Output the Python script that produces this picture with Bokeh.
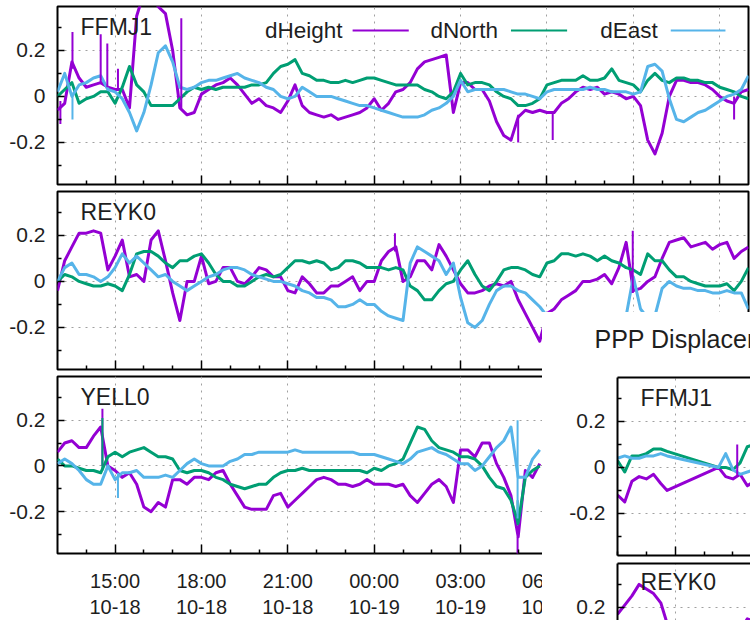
import numpy as np
import pandas as pd
from bokeh.plotting import figure
from bokeh.models import (Range1d, FixedTicker, DatetimeTickFormatter, PrintfTickFormatter,
                          Label, Column, DatetimeAxis, Grid)
from bokeh.embed import file_html
from bokeh.resources import INLINE

# ---------------------------------------------------------------- data
components = ["dHeight", "dNorth", "dEast"]
colors = ["#9400d3", "#009e73", "#56b4e9"]

main_start = "2023-10-18 13:00"      # left edge of the main chart
main_span_h = 24
sample_step_h = 0.25                 # one value every 15 minutes
main_major_h = [2, 5, 8, 11, 14, 17, 20, 23]          # 15:00, 18:00, ... 12:00
main_minor_h = [1, 3, 4, 6, 7, 9, 10, 12, 13, 15, 16, 18, 19, 21, 22]

y_major = [-0.2, 0.0, 0.2]
y_minor = [-0.3, -0.1, 0.1, 0.3]

ffmj1_dheight = [-0.06, -0.03, 0.15, 0.08, 0.04, 0.05, 0.06, 0.04, 0.03, 0.03,
                 -0.05, 0.35, 0.45, 0.45, 0.39, 0.36, 0.20, -0.05, -0.08, -0.07,
                 0.01, 0.03, 0.05, 0.06, 0.08, 0.05, 0.01, -0.03, -0.01, -0.04,
                 -0.05, -0.07, -0.02, 0.05, -0.04, -0.07, -0.08, -0.09, -0.08, -0.10,
                 -0.09, -0.08, -0.07, -0.05, -0.01, -0.06, -0.03, 0.02, 0.03, 0.06,
                 0.12, 0.15, 0.16, 0.17, 0.18, -0.07, 0.06, 0.06, 0.03, 0.03,
                 -0.02, -0.11, -0.17, -0.19, -0.09, -0.06, -0.07, -0.06, -0.07, -0.07,
                 -0.03, -0.01, 0.02, 0.04, 0.03, 0.04, 0.01, 0.02, 0.01, -0.01,
                 0.00, -0.04, -0.19, -0.25, -0.16, 0.00, 0.07, 0.07, 0.06, 0.06,
                 0.05, 0.03, 0.00, -0.02, -0.03, 0.02, 0.03]
ffmj1_dnorth = [0.00, 0.03, 0.06, -0.03, -0.01, 0.00, 0.02, 0.02, -0.03, 0.04,
                0.13, 0.05, 0.02, -0.04, -0.04, -0.04, -0.04, -0.01, 0.02, 0.04,
                0.03, 0.04, 0.03, 0.04, 0.04, 0.04, 0.04, 0.05, 0.05, 0.06,
                0.10, 0.13, 0.14, 0.16, 0.10, 0.09, 0.07, 0.07, 0.06, 0.06,
                0.07, 0.06, 0.07, 0.08, 0.08, 0.07, 0.06, 0.05, 0.05, 0.05,
                0.05, 0.03, 0.02, 0.00, -0.01, 0.02, 0.10, 0.05, 0.06, 0.06,
                0.05, 0.02, 0.00, -0.01, -0.04, -0.04, -0.03, -0.01, 0.05, 0.06,
                0.07, 0.07, 0.07, 0.09, 0.07, 0.07, 0.08, 0.12, 0.07, 0.06,
                0.05, 0.02, 0.07, 0.10, 0.07, 0.06, 0.08, 0.08, 0.07, 0.07,
                0.06, 0.06, 0.04, 0.03, 0.02, 0.00, -0.01]
ffmj1_deast = [0.02, 0.10, 0.00, 0.05, 0.06, 0.08, 0.09, 0.03, 0.02, -0.01,
               -0.07, -0.15, -0.07, 0.05, 0.19, 0.22, 0.15, 0.04, 0.03, 0.04,
               0.06, 0.07, 0.07, 0.08, 0.09, 0.10, 0.08, 0.07, 0.06, 0.04,
               0.03, 0.00, -0.01, 0.00, 0.04, 0.02, 0.00, 0.00, 0.00, -0.01,
               -0.02, -0.03, -0.04, -0.04, -0.05, -0.06, -0.07, -0.08, -0.09, -0.09,
               -0.09, -0.08, -0.06, -0.05, -0.03, 0.00, 0.07, 0.02, 0.03, 0.03,
               0.03, 0.03, 0.03, 0.02, 0.01, 0.01, 0.00, -0.01, 0.02, 0.03,
               0.03, 0.03, 0.03, 0.03, 0.04, 0.03, 0.03, 0.02, 0.02, 0.02,
               0.01, 0.02, 0.13, 0.14, 0.11, -0.01, -0.10, -0.11, -0.09, -0.07,
               -0.06, -0.04, -0.02, 0.00, 0.01, 0.03, 0.09]

reyk0_dheight = [-0.04, 0.09, 0.15, 0.21, 0.21, 0.22, 0.21, 0.05, 0.11, 0.18,
                 0.02, 0.03, 0.00, 0.18, 0.22, 0.09, -0.05, -0.17, 0.00, 0.00,
                 0.11, -0.01, 0.00, 0.06, 0.06, 0.00, -0.01, 0.02, 0.06, 0.05,
                 0.02, 0.02, -0.04, -0.05, 0.02, -0.01, -0.05, -0.05, -0.02, -0.02,
                 0.00, 0.02, -0.04, 0.00, 0.00, 0.09, 0.13, 0.15, 0.00, 0.02,
                 0.09, 0.09, 0.05, 0.16, 0.11, 0.05, -0.01, -0.05, -0.05, -0.04,
                 -0.02, -0.01, -0.02, 0.00, -0.08, -0.14, -0.20, -0.26, -0.14, -0.12,
                 -0.08, -0.06, -0.04, 0.00, 0.00, 0.01, 0.03, -0.01, 0.06, 0.17,
                 -0.04, -0.03, 0.00, 0.02, 0.10, 0.17, 0.18, 0.19, 0.15, 0.16,
                 0.17, 0.14, 0.16, 0.17, 0.10, 0.13, 0.15]
reyk0_dnorth = [0.00, 0.03, 0.02, 0.00, -0.01, -0.02, -0.02, -0.01, -0.02, -0.04,
                0.03, 0.12, 0.13, 0.13, 0.11, 0.08, 0.06, 0.09, 0.09, 0.11,
                0.12, 0.08, 0.03, 0.00, 0.00, -0.02, -0.02, 0.00, 0.02, 0.03,
                0.02, 0.03, 0.06, 0.09, 0.09, 0.08, 0.09, 0.08, 0.05, 0.06,
                0.09, 0.09, 0.08, 0.06, 0.06, 0.06, 0.05, 0.06, 0.05, -0.02,
                -0.04, -0.08, -0.08, -0.04, -0.01, 0.00, 0.05, 0.09, 0.03, -0.02,
                -0.04, 0.00, 0.05, 0.06, 0.06, 0.05, 0.03, 0.02, 0.08, 0.09,
                0.12, 0.12, 0.11, 0.12, 0.11, 0.09, 0.11, 0.09, 0.08, 0.06,
                0.05, 0.03, 0.12, 0.09, 0.09, 0.05, 0.02, 0.02, 0.00, -0.01,
                -0.02, -0.02, -0.02, -0.01, -0.04, 0.00, 0.06]
reyk0_deast = [0.00, 0.06, 0.08, 0.03, 0.03, 0.02, 0.00, 0.02, 0.06, 0.12,
               0.08, 0.11, 0.08, 0.05, 0.02, 0.03, 0.00, -0.02, -0.04, -0.02,
               0.00, 0.02, 0.03, 0.05, 0.06, 0.06, 0.05, 0.03, 0.02, 0.01,
               0.00, 0.00, -0.01, -0.02, -0.04, -0.05, -0.07, -0.07, -0.08, -0.11,
               -0.11, -0.10, -0.08, -0.10, -0.10, -0.13, -0.15, -0.16, -0.17, 0.08,
               0.15, 0.13, 0.11, 0.09, 0.03, 0.08, -0.07, -0.18, -0.20, -0.17,
               -0.10, -0.04, -0.02, -0.02, -0.04, -0.05, -0.08, -0.11, -0.15, -0.17,
               -0.18, -0.19, -0.19, -0.20, -0.19, -0.18, -0.18, -0.17, -0.16, -0.15,
               0.02, -0.12, -0.16, -0.15, -0.03, 0.00, -0.02, -0.03, -0.03, -0.04,
               -0.04, -0.05, -0.05, -0.04, -0.05, -0.05, -0.12]

# YELL0: only the part not hidden by the overlapping window can be read
yell0_dheight = [0.06, 0.10, 0.11, 0.08, 0.08, 0.13, 0.17, 0.00, -0.02, -0.05,
                 -0.03, -0.08, -0.18, -0.20, -0.16, -0.18, -0.06, -0.06, -0.08, -0.05,
                 -0.05, -0.06, -0.03, -0.02, -0.08, -0.13, -0.18, -0.19, -0.19, -0.19,
                 -0.13, -0.12, -0.18, -0.15, -0.12, -0.09, -0.06, -0.05, -0.06, -0.08,
                 -0.08, -0.09, -0.08, -0.06, -0.08, -0.08, -0.08, -0.09, -0.08, -0.13,
                 -0.16, -0.12, -0.08, -0.06, -0.09, -0.16, 0.07, 0.07, 0.04, 0.10,
                 0.10, 0.01, -0.05, -0.13, -0.31, -0.02, -0.05, 0.01]
yell0_dnorth = [0.03, 0.00, 0.00, -0.01, -0.02, -0.02, -0.03, 0.04, 0.06, 0.04,
                0.06, 0.07, 0.08, 0.06, 0.04, 0.04, 0.03, -0.02, -0.03, -0.02,
                -0.02, -0.03, -0.05, -0.06, -0.08, -0.09, -0.10, -0.09, -0.08, -0.08,
                -0.05, -0.03, -0.02, -0.02, -0.01, -0.02, -0.02, -0.02, -0.02, -0.02,
                -0.02, -0.02, -0.02, -0.03, -0.01, -0.02, 0.00, 0.01, 0.03, 0.10,
                0.17, 0.16, 0.11, 0.08, 0.07, 0.06, 0.04, 0.04, 0.03, 0.00,
                -0.05, -0.09, -0.10, -0.15, -0.25, -0.05, -0.02, 0.00]
yell0_deast = [0.01, 0.03, 0.01, -0.02, -0.06, -0.08, -0.08, 0.00, -0.06, -0.03,
               -0.03, -0.02, -0.05, -0.05, -0.05, -0.04, -0.05, -0.02, 0.01, 0.03,
               0.01, 0.00, 0.00, 0.00, 0.02, 0.03, 0.05, 0.05, 0.06, 0.06,
               0.06, 0.06, 0.06, 0.07, 0.06, 0.06, 0.06, 0.06, 0.06, 0.06,
               0.06, 0.06, 0.05, 0.05, 0.05, 0.04, 0.03, 0.02, 0.01, 0.03,
               0.06, 0.07, 0.08, 0.06, 0.05, 0.03, 0.01, 0.01, -0.02, 0.00,
               0.04, 0.08, 0.11, 0.17, -0.05, -0.05, 0.03, 0.07]

# single-epoch outliers (hours from start, from value, to value, component index)
ffmj1_spike_h = [0.10, 0.52, 1.50, 1.73, 2.10, 4.30, 0.52, 16.0, 17.2, 23.5]
ffmj1_spike_a = [-0.02, 0.12, 0.06, 0.04, 0.03, -0.05, 0.00, -0.08, -0.07, 0.00]
ffmj1_spike_b = [-0.12, 0.28, 0.27, 0.23, 0.12, 0.34, -0.10, -0.20, -0.19, -0.10]
ffmj1_spike_c = [0, 0, 0, 0, 0, 0, 2, 0, 0, 0]
reyk0_spike_h = [11.72, 19.98]
reyk0_spike_a = [0.13, -0.05]
reyk0_spike_b = [0.21, 0.22]
reyk0_spike_c = [0, 0]
yell0_spike_h = [1.56, 1.56, 2.10, 15.98, 15.98, 15.98]
yell0_spike_a = [0.00, -0.02, -0.03, -0.31, -0.15, 0.20]
yell0_spike_b = [0.25, 0.21, -0.14, -0.40, -0.26, -0.23]
yell0_spike_c = [0, 1, 2, 0, 1, 2]

# second (overlapping) window: "PPP Displacements"
ppp_title = "PPP Displacements"
ppp_start = "2023-10-19 07:00"
ppp_span_h = 4.61
ppp_major_h = [2, 5]
ppp_minor_h = [0, 1, 3, 4]
ppp_h = [0, 0.25, 0.5, 0.75, 1.0, 1.25, 1.5, 1.72, 3.5, 3.75, 4.0, 4.25, 4.5, 4.75]
ppp_ffmj1_dheight = [-0.12, -0.15, -0.06, -0.04, -0.05, -0.03, -0.07, -0.10, 0.00, -0.04, -0.05, -0.03, -0.08, -0.06]
ppp_ffmj1_dnorth = [0.03, -0.02, 0.05, 0.05, 0.06, 0.08, 0.08, 0.07, 0.00, 0.00, -0.01, 0.02, 0.09, 0.10]
ppp_ffmj1_deast = [0.04, 0.05, 0.04, 0.04, 0.05, 0.05, 0.06, 0.05, 0.00, 0.06, -0.01, -0.03, -0.02, -0.01]
ppp_reyk0_dheight = [0.17, 0.21, 0.25, 0.30, 0.28, 0.26, 0.22, 0.13, 0.02, 0.05, 0.08, 0.10, 0.15, 0.14]
ppp_reyk0_dnorth = [0.00, 0.02, 0.03, 0.02, 0.04, 0.05, 0.04, 0.05, 0.00, 0.01, 0.00, 0.02, 0.03, 0.03]
ppp_reyk0_deast = [0.02, 0.03, 0.02, 0.04, 0.03, 0.05, 0.03, 0.04, 0.01, 0.00, 0.01, 0.02, 0.00, 0.01]
ppp_ffmj1_spike_h = [4.15]
ppp_ffmj1_spike_a = [-0.04]
ppp_ffmj1_spike_b = [0.10]
ppp_ffmj1_spike_c = [0]

# ---------------------------------------------------------------- style
FONT = "Liberation Sans"
TXT = "#1e1e1e"
Y_LO, Y_HI = -0.383, 0.391
HOUR_MS = 3600 * 1000.0
LINE_W = 3.0


def base_ms(s):
    return pd.Timestamp(s).value / 1e6


def to_ms(start, hours):
    return base_ms(start) + np.asarray(hours, dtype=float) * HOUR_MS


def style_common(p):
    p.background_fill_color = "white"
    p.border_fill_color = "white"
    p.xgrid.grid_line_color = "#a0a0a0"
    p.ygrid.grid_line_color = "#a0a0a0"
    p.xgrid.grid_line_dash = "2 5"
    p.ygrid.grid_line_dash = "2 5"
    p.xgrid.grid_line_width = 1
    p.ygrid.grid_line_width = 1


def style_yaxis(ax, ticker, line):
    ax.ticker = ticker
    ax.formatter = PrintfTickFormatter(format="%g")
    ax.major_tick_in = 7
    ax.major_tick_out = 0
    ax.minor_tick_in = 4
    ax.minor_tick_out = 0
    ax.major_tick_line_color = "black"
    ax.minor_tick_line_color = "black"
    ax.major_tick_line_width = 1.5
    ax.minor_tick_line_width = 1.5
    ax.major_label_standoff = 12
    ax.major_label_text_font = FONT
    ax.major_label_text_font_size = "21px"
    ax.major_label_text_color = TXT
    if line:
        ax.axis_line_color = "black"
        ax.axis_line_width = 2
    else:
        ax.axis_line_color = None


def style_xaxis(ax, ticker, labels, line):
    ax.ticker = ticker
    ax.formatter = DatetimeTickFormatter(hours="%H:%M\n%m-%d", hourmin="%H:%M\n%m-%d",
                                         days="%H:%M\n%m-%d",
                                         boundary_scaling=False, strip_leading_zeros=False)
    ax.major_tick_in = 9
    ax.major_tick_out = 0
    ax.minor_tick_in = 4
    ax.minor_tick_out = 0
    ax.major_tick_line_color = "black"
    ax.minor_tick_line_color = "black"
    ax.major_tick_line_width = 1.5
    ax.minor_tick_line_width = 1.5
    ax.major_label_text_font = FONT
    if labels:
        ax.major_label_text_color = TXT
        ax.major_label_text_font_size = "20px"
        ax.major_label_standoff = 16
    else:
        # ticks only: the labels of these shared time axes are not drawn
        ax.major_label_text_color = None
        ax.major_label_text_alpha = 0
        ax.major_label_text_font_size = "1px"
        ax.major_label_standoff = 0
    if line:
        ax.axis_line_color = "black"
        ax.axis_line_width = 2
    else:
        ax.axis_line_color = None


def draw_series(p, start, hours, series, sp_h, sp_a, sp_b, sp_c):
    x = to_ms(start, hours)
    for vals, col in zip(series, colors):
        n = len(vals)
        p.line(x=x[:n], y=vals, line_color=col, line_width=LINE_W, line_join="round")
    if sp_h:
        p.segment(x0=list(to_ms(start, sp_h)), y0=sp_a, x1=list(to_ms(start, sp_h)), y1=sp_b,
                  line_color=[colors[c] for c in sp_c], line_width=2)


def station_label(p, start, text, y=0.3):
    p.add_layout(Label(x=base_ms(start) + 0.8 * HOUR_MS, y=y, text=text,
                       text_font=FONT, text_font_size="23px", text_color=TXT,
                       text_baseline="middle", text_align="left"))


# ---------------------------------------------------------------- main window
main_x = Range1d(base_ms(main_start), base_ms(main_start) + main_span_h * HOUR_MS)
main_hours = np.arange(len(ffmj1_dheight)) * sample_step_h
main_xticker = FixedTicker(ticks=list(to_ms(main_start, main_major_h)),
                           minor_ticks=list(to_ms(main_start, main_minor_h)))
yticker = FixedTicker(ticks=y_major, minor_ticks=y_minor)

panels = [("FFMJ1", [ffmj1_dheight, ffmj1_dnorth, ffmj1_deast],
           (ffmj1_spike_h, ffmj1_spike_a, ffmj1_spike_b, ffmj1_spike_c), 187, 6, 3),
          ("REYK0", [reyk0_dheight, reyk0_dnorth, reyk0_deast],
           (reyk0_spike_h, reyk0_spike_a, reyk0_spike_b, reyk0_spike_c), 185, 4, 3),
          ("YELL0", [yell0_dheight, yell0_dnorth, yell0_deast],
           (yell0_spike_h, yell0_spike_a, yell0_spike_b, yell0_spike_c), 248, 4, 66)]

main_figs = []
for k, (name, series, spikes, h, bt, bb) in enumerate(panels):
    last = k == len(panels) - 1
    p = figure(width=750, height=h, x_axis_type="datetime", x_range=main_x,
               y_range=Range1d(Y_LO, Y_HI), output_backend="svg", toolbar_location=None,
               min_border_left=57, min_border_right=2, min_border_top=bt, min_border_bottom=bb)
    style_common(p)
    p.outline_line_color = "black"
    p.outline_line_width = 2
    p.outline_line_alpha = 1.0
    style_xaxis(p.xaxis[0], main_xticker, labels=last, line=False)
    style_yaxis(p.yaxis[0], yticker, line=False)
    p.xgrid.ticker = main_xticker
    p.ygrid.ticker = yticker
    draw_series(p, main_start, main_hours, series, *spikes)
    station_label(p, main_start, name)
    if k == 0:
        # key: text right-aligned, then the sample line
        key_text_end_h = [9.9, 15.3, 20.85]
        key_line_h = [(10.25, 12.2), (15.75, 17.7), (21.3, 23.2)]
        key_y = 0.287
        for lab, te, col in zip(components, key_text_end_h, colors):
            p.add_layout(Label(x=base_ms(main_start) + te * HOUR_MS, y=key_y, text=lab,
                               text_font=FONT, text_font_size="22.5px", text_color=TXT,
                               text_align="right", text_baseline="middle"))
        p.segment(x0=[base_ms(main_start) + a * HOUR_MS for a, b in key_line_h],
                  x1=[base_ms(main_start) + b * HOUR_MS for a, b in key_line_h],
                  y0=[key_y] * 3, y1=[key_y] * 3, line_color=colors, line_width=2)
    main_figs.append(p)

# ---------------------------------------------------------------- overlapping window
ppp_x = Range1d(base_ms(ppp_start), base_ms(ppp_start) + ppp_span_h * HOUR_MS)
ppp_xticker = FixedTicker(ticks=list(to_ms(ppp_start, ppp_major_h)),
                          minor_ticks=list(to_ms(ppp_start, ppp_minor_h)))


def top_line_axis(p):
    ax = DatetimeAxis(ticker=FixedTicker(ticks=[]), major_label_text_font_size="1px",
                      major_label_text_color=None, major_label_text_alpha=0,
                      major_label_standoff=0, major_tick_line_color=None,
                      minor_tick_line_color=None, axis_line_color="black", axis_line_width=2,
                      major_tick_in=0, major_tick_out=0, minor_tick_in=0, minor_tick_out=0)
    p.add_layout(ax, "above")


# strip carrying the window title
qt = figure(width=208, height=48, x_range=ppp_x, y_range=Range1d(0, 1),
            output_backend="svg", toolbar_location=None,
            x_axis_location=None, y_axis_location=None, title=ppp_title,
            min_border_left=75, min_border_right=0, min_border_top=40, min_border_bottom=0)
qt.background_fill_color = "white"
qt.border_fill_color = "white"
qt.outline_line_color = None
qt.grid.visible = False
qt.title.text_font = FONT
qt.title.text_font_size = "25px"
qt.title.text_font_style = "normal"
qt.title.text_color = TXT
qt.title.align = "left"
qt.title.offset = -23
qt.title.standoff = 0

q1 = figure(width=208, height=199, x_axis_type="datetime", x_range=ppp_x,
            y_range=Range1d(Y_LO, Y_HI), output_backend="svg", toolbar_location=None,
            min_border_left=75, min_border_right=0, min_border_top=17, min_border_bottom=4)
style_common(q1)
q1.outline_line_color = None
style_xaxis(q1.xaxis[0], ppp_xticker, labels=False, line=True)
style_yaxis(q1.yaxis[0], yticker, line=True)
q1.xgrid.ticker = ppp_xticker
q1.ygrid.ticker = yticker
top_line_axis(q1)
draw_series(q1, ppp_start, ppp_h, [ppp_ffmj1_dheight, ppp_ffmj1_dnorth, ppp_ffmj1_deast],
            ppp_ffmj1_spike_h, ppp_ffmj1_spike_a, ppp_ffmj1_spike_b, ppp_ffmj1_spike_c)
station_label(q1, ppp_start, "FFMJ1")

q2 = figure(width=208, height=61, x_axis_type="datetime", x_range=ppp_x,
            y_range=Range1d(0.143, Y_HI), output_backend="svg", toolbar_location=None,
            x_axis_location=None,
            min_border_left=75, min_border_right=0, min_border_top=4, min_border_bottom=0)
style_common(q2)
q2.outline_line_color = None
style_yaxis(q2.yaxis[0], yticker, line=True)
if len(q2.xgrid) == 0:
    q2.add_layout(Grid(dimension=0, ticker=ppp_xticker), "center")
    style_common(q2)
q2.xgrid.ticker = ppp_xticker
q2.ygrid.ticker = yticker
top_line_axis(q2)
draw_series(q2, ppp_start, ppp_h, [ppp_reyk0_dheight, ppp_reyk0_dnorth, ppp_reyk0_deast],
            [], [], [], [])
station_label(q2, ppp_start, "REYK0", y=0.31)

ppp_window = Column(children=[qt, q1, q2], spacing=0,
                    styles={"position": "absolute", "left": "542px", "top": "312px",
                            "background-color": "white"})

root = Column(children=main_figs + [ppp_window], spacing=0,
              styles={"position": "relative", "background-color": "white"})

open("out.html", "w").write(file_html(root, INLINE))
